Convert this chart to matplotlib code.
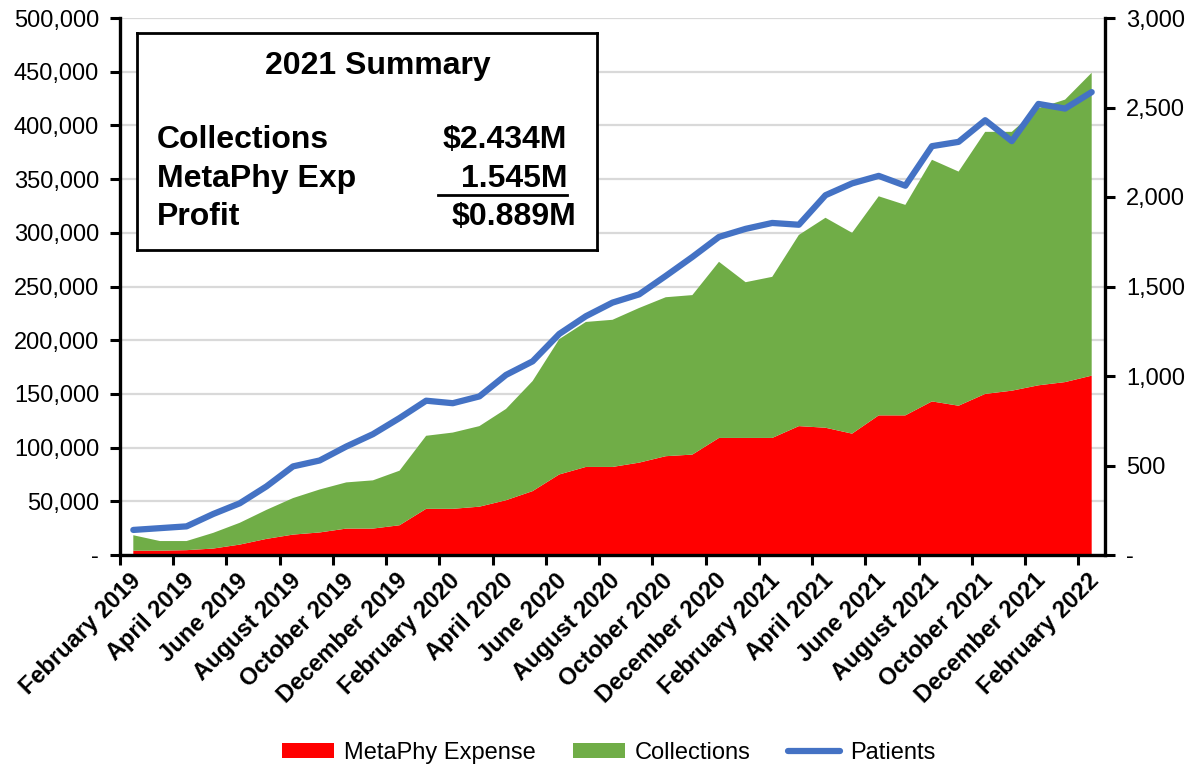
import matplotlib
matplotlib.use("Agg")
import matplotlib.pyplot as plt
from matplotlib.ticker import FuncFormatter, FixedLocator
from matplotlib.patches import Patch
from matplotlib.lines import Line2D

plt.rcParams['font.family'] = ['Liberation Sans', 'DejaVu Sans']

# --- dados (mensal, fev/2019 a fev/2022) ---
meses = ['February 2019', 'March 2019', 'April 2019', 'May 2019', 'June 2019', 'July 2019',
         'August 2019', 'September 2019', 'October 2019', 'November 2019', 'December 2019',
         'January 2020', 'February 2020', 'March 2020', 'April 2020', 'May 2020', 'June 2020',
         'July 2020', 'August 2020', 'September 2020', 'October 2020', 'November 2020',
         'December 2020', 'January 2021', 'February 2021', 'March 2021', 'April 2021',
         'May 2021', 'June 2021', 'July 2021', 'August 2021', 'September 2021',
         'October 2021', 'November 2021', 'December 2021', 'January 2022', 'February 2022']

despesa = [4000, 4000, 4500, 6000, 9700, 15000, 19000, 21000, 24600, 24600, 27700,
           43000, 43000, 45000, 51000, 59500, 75000, 82000, 82000, 86000, 92000, 93500,
           109000, 109000, 109000, 120000, 118500, 113000, 130000, 130000, 143000, 139000,
           150000, 153000, 158000, 161000, 167000]

cobrancas = [14400, 9000, 8500, 14600, 20300, 27000, 34000, 40000, 43000, 44900, 50800,
             68000, 71000, 75000, 85000, 102500, 126000, 135000, 137000, 144000, 148000,
             148500, 164000, 145000, 150000, 178000, 195500, 187000, 204000, 196000, 225000,
             218000, 244000, 241000, 258000, 263000, 282000]

pacientes = [140, 150, 160, 229, 289, 383, 495, 528, 606, 675, 765, 862, 848, 886, 1006,
             1082, 1235, 1334, 1410, 1456, 1559, 1665, 1777, 1822, 1855, 1845, 2010, 2076,
             2118, 2063, 2284, 2308, 2429, 2312, 2520, 2494, 2586]

VERMELHO = '#FF0000'
VERDE = '#70AD47'
AZUL = '#4472C4'

fig = plt.figure(figsize=(12.03, 7.68), dpi=100)
ax = fig.add_axes([120 / 1203, 213 / 768, 985 / 1203, 537 / 768])

x = list(range(len(meses)))
ax.stackplot(x, despesa, cobrancas, colors=[VERMELHO, VERDE], linewidth=0)

ax.set_xlim(-0.5, len(meses) - 0.5)
ax.set_ylim(0, 500000)
ax.set_yticks(range(0, 500001, 50000))
ax.yaxis.set_major_formatter(FuncFormatter(lambda v, p: '-' if v == 0 else f'{v:,.0f}'))
ax.grid(axis='y', color='#D9D9D9', linewidth=1.6)
ax.set_axisbelow(True)

# eixo x: marcas entre categorias, rótulos a cada 2 meses
ax.xaxis.set_major_locator(FixedLocator([i - 0.5 for i in range(0, len(meses), 2)]))
ax.xaxis.set_major_formatter(FuncFormatter(lambda v, p: ''))
ax.xaxis.set_minor_locator(FixedLocator([i + 0.15 for i in range(0, len(meses), 2)]))
ax.set_xticklabels([meses[i] for i in range(0, len(meses), 2)], minor=True,
                   rotation=45, ha='right', va='center', rotation_mode='anchor',
                   fontsize=17, fontweight='bold')
ax.tick_params(axis='x', which='minor', length=0, pad=16)
ax.tick_params(axis='x', which='major', length=7, width=2.2, direction='out')
ax.tick_params(axis='y', length=7, width=2.2, labelsize=17, pad=8)

for lado in ['left', 'bottom']:
    ax.spines[lado].set_linewidth(2.4)
ax.spines['top'].set_visible(False)
ax.spines['right'].set_visible(False)

# eixo secundário: pacientes
ax2 = ax.twinx()
ax2.plot(x, pacientes, color=AZUL, linewidth=4.5, solid_capstyle='round')
ax2.set_ylim(0, 3000)
ax2.set_yticks(range(0, 3001, 500))
ax2.yaxis.set_major_formatter(FuncFormatter(lambda v, p: '-' if v == 0 else f'{v:,.0f}'))
ax2.tick_params(axis='y', length=7, width=2.2, labelsize=17, pad=8)
ax2.spines['right'].set_linewidth(2.4)
ax2.spines['top'].set_visible(False)
ax2.spines['left'].set_visible(False)
ax2.spines['bottom'].set_visible(False)

# --- quadro resumo 2021 ---
caixa = fig.add_axes([137 / 1203, 518 / 768, 460 / 1203, 217 / 768])
caixa.set_facecolor('white')
caixa.set_xticks([])
caixa.set_yticks([])
for s in caixa.spines.values():
    s.set_linewidth(2)
caixa.set_xlim(0, 1)
caixa.set_ylim(0, 1)
fs = 23
caixa.text(0.524, 0.848, '2021 Summary', ha='center', va='center', fontsize=fs, fontweight='bold')
caixa.text(0.043, 0.507, 'Collections', ha='left', va='center', fontsize=fs, fontweight='bold')
caixa.text(0.043, 0.327, 'MetaPhy Exp', ha='left', va='center', fontsize=fs, fontweight='bold')
caixa.text(0.043, 0.152, 'Profit', ha='left', va='center', fontsize=fs, fontweight='bold')
caixa.text(0.935, 0.507, '$2.434M', ha='right', va='center', fontsize=fs, fontweight='bold')
caixa.text(0.935, 0.327, '1.545M', ha='right', va='center', fontsize=fs, fontweight='bold')
caixa.text(0.954, 0.152, '$0.889M', ha='right', va='center', fontsize=fs, fontweight='bold')
caixa.plot([0.654, 0.935], [0.255, 0.255], color='black', linewidth=2)

# --- legenda ---
itens = [Patch(facecolor=VERMELHO, label='MetaPhy Expense'),
         Patch(facecolor=VERDE, label='Collections'),
         Line2D([0], [0], color=AZUL, linewidth=4.5, solid_capstyle='round', label='Patients')]
fig.legend(handles=itens, loc='center', bbox_to_anchor=(0.506, 15 / 768), ncol=3,
           frameon=False, fontsize=17, handlelength=2.2, handleheight=0.6,
           columnspacing=1.6, handletextpad=0.4)

fig.savefig('out.png', dpi=100)
